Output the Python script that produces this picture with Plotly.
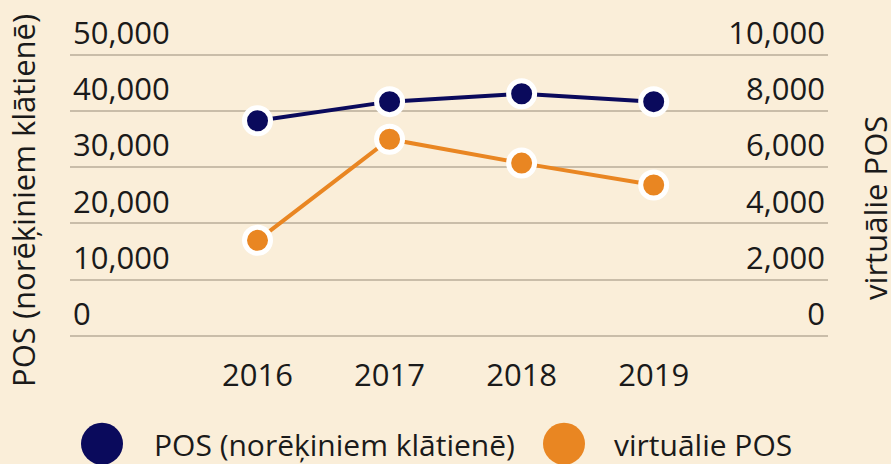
import plotly.graph_objects as go

years = [2016, 2017, 2018, 2019]
pos_physical = [38300, 41700, 43100, 41700]
pos_virtual = [3400, 7000, 6150, 5370]
left_ticks = [0, 10000, 20000, 30000, 40000, 50000]
right_ticks = [0, 2000, 4000, 6000, 8000, 10000]
name_physical = "POS (norēķiniem klātienē)"
name_virtual = "virtuālie POS"

NAVY = "#0a0a5c"
ORANGE = "#e98622"
BG = "#faeed9"
GRID = "#c9bda9"
FONT = "Open Sans"
TICK_FS = 31
LEG_FS = 30
TITLE_FS = 31
TXT = "#1a1a1a"

fig = go.Figure()
fig.add_trace(go.Scatter(
    x=years, y=pos_physical, name=name_physical, mode="lines+markers",
    line=dict(color=NAVY, width=4),
    marker=dict(size=26, color=NAVY, line=dict(color="white", width=5)),
    showlegend=False, yaxis="y",
))
fig.add_trace(go.Scatter(
    x=years, y=pos_virtual, name=name_virtual, mode="lines+markers",
    line=dict(color=ORANGE, width=4),
    marker=dict(size=26, color=ORANGE, line=dict(color="white", width=5)),
    showlegend=False, yaxis="y2",
))

tickfont = dict(family=FONT, size=TICK_FS, color=TXT)

# plot area: y px 20 .. 338.2 ; x px 70 .. 828
fig.update_layout(
    width=891, height=464,
    margin=dict(l=70, r=63, t=20, b=126),
    paper_bgcolor=BG, plot_bgcolor=BG,
    font=dict(family=FONT, size=TICK_FS, color=TXT),
    showlegend=False,
    xaxis=dict(
        range=[2014.58, 2020.32], tickvals=years, ticktext=[str(y) for y in years],
        showgrid=False, zeroline=False, showline=False, tickfont=tickfont,
        ticks="outside", ticklen=10, tickcolor="rgba(0,0,0,0)",
    ),
    yaxis=dict(
        range=[-400, 56240], tickvals=left_ticks,
        ticktext=[f"{v:,}" for v in left_ticks], tickfont=tickfont,
        showgrid=True, gridcolor=GRID, gridwidth=2, zeroline=False,
        ticklabelposition="inside top", ticklabeloverflow="allow",
    ),
    yaxis2=dict(
        range=[-80, 11248], tickvals=right_ticks,
        ticktext=[f"{v:,}" for v in right_ticks], tickfont=tickfont,
        overlaying="y", side="right", showgrid=False, zeroline=False,
        ticklabelposition="inside top", ticklabeloverflow="allow",
    ),
)

def py(pix):
    # paper y from pixel row, plot area 20..338.2
    return (338.2 - pix) / (338.2 - 20)
def px(pix):
    return (pix - 70) / 758.0

# axis titles
fig.add_annotation(text=name_physical, xref="paper", yref="paper",
                   x=px(23), y=py(201), xanchor="center", yanchor="middle",
                   textangle=-90, showarrow=False,
                   font=dict(family=FONT, size=TITLE_FS, color=TXT))
fig.add_annotation(text=name_virtual, xref="paper", yref="paper",
                   x=px(875), y=py(208), xanchor="center", yanchor="middle",
                   textangle=-90, showarrow=False,
                   font=dict(family=FONT, size=TITLE_FS, color=TXT))

# legend swatches
legend_items = [(name_physical, NAVY, 102, 152), (name_virtual, ORANGE, 564, 612)]
for label, color, cx, tx in legend_items:
    fig.add_shape(type="circle", xref="paper", yref="paper",
                  xsizemode="pixel", ysizemode="pixel",
                  xanchor=px(cx), yanchor=py(444), x0=-21, x1=21, y0=-21, y1=21,
                  fillcolor=color, line=dict(width=0))
    fig.add_annotation(text=label, xref="paper", yref="paper", x=px(tx), y=py(445),
                       xanchor="left", yanchor="middle", showarrow=False,
                       font=dict(family=FONT, size=LEG_FS, color=TXT))

fig.write_html("out.html")
